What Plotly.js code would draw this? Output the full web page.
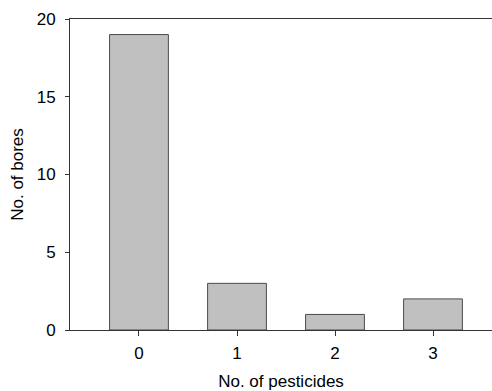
<!DOCTYPE html>
<html>
<head>
<meta charset="utf-8">
<script src="https://cdn.plot.ly/plotly-3.0.1.min.js"></script>
<style>html,body{margin:0;padding:0;background:#fff;}#chart{width:492px;height:391px;}</style>
</head>
<body>
<div id="chart"></div>
<script>
var pesticides = [0, 1, 2, 3];
var bores = [19, 3, 1, 2];
var xTickLabels = ['0', '1', '2', '3'];
var yTickVals = [0, 5, 10, 15, 20];

var trace = {
  type: 'bar',
  x: pesticides,
  y: bores,
  width: 0.6,
  marker: {color: '#c0c0c0', line: {color: '#4a4a4a', width: 1}},
  hoverinfo: 'none'
};

var font = {family: 'Arial, "Liberation Sans", sans-serif', size: 17, color: '#000'};

var layout = {
  width: 492, height: 391,
  margin: {l: 70, r: 0, t: 19, b: 61, pad: 0},
  paper_bgcolor: '#fff', plot_bgcolor: '#fff',
  showlegend: false,
  font: font,
  xaxis: {
    range: [-0.704, 3.602],
    tickmode: 'array', tickvals: pesticides, ticktext: xTickLabels,
    ticks: 'outside', ticklen: 5, tickwidth: 1, tickcolor: '#333',
    showline: true, linecolor: '#333', linewidth: 1, mirror: true,
    showgrid: false, zeroline: false,
    tickfont: font, ticklabelstandoff: 3,
    title: {text: 'No. of pesticides', font: font, standoff: 14}
  },
  yaxis: {
    range: [0, 20],
    tickmode: 'array', tickvals: yTickVals,
    ticks: 'outside', ticklen: 4, tickwidth: 1, tickcolor: '#333',
    showline: true, linecolor: '#333', linewidth: 1, mirror: false,
    showgrid: false, zeroline: false,
    tickfont: font, ticklabelstandoff: 6,
    title: {text: 'No. of bores', font: font, standoff: 8}
  }
};

Plotly.newPlot('chart', [trace], layout, {staticPlot: true, displayModeBar: false});
</script>
</body>
</html>
